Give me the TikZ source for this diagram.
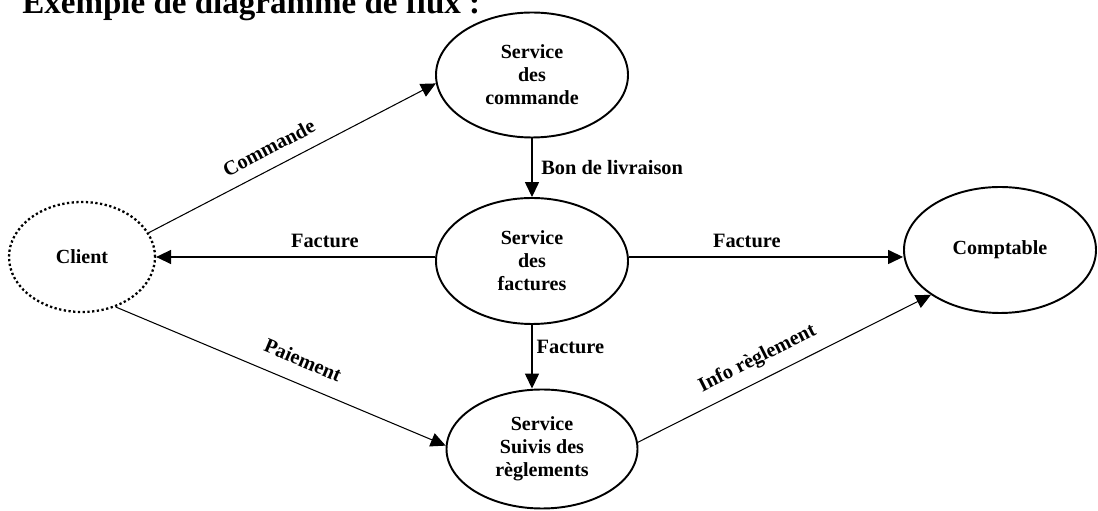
\documentclass[tikz,border=0pt]{standalone}
\usepackage{fontspec}
\setmainfont{Liberation Serif}
\usepackage{tikz}
\usetikzlibrary{shapes.geometric, arrows.meta, positioning}
\tikzset{proc/.style={ellipse, draw=black, line width=1.1pt, inner sep=0pt, align=center,
                      font=\fontsize{11.4pt}{13.1pt}\selectfont\bfseries},
         ext/.style={proc, line width=1.3pt, dash pattern=on 1.3pt off 1.4pt},
         flow/.style={line width=.6pt, -{Triangle[length=8.5pt, width=8pt]}},
         lbl/.style={font=\fontsize{11.6pt}{13.1pt}\selectfont\bfseries}}

\begin{document}
\begin{tikzpicture}
                 \useasboundingbox(0,0) rectangle (21.96,10.22);

                 \node[anchor=base west, inner sep=0pt, font=\fontsize{18.8pt}{21pt}\selectfont\bfseries](titre) at (.44,9.95){Exemple de diagramme de flux :};

                 \node[ext, minimum width=2.92cm, minimum height=2.2cm](client) at (1.64,5.08){Client};
                 \node[proc, minimum width=3.84cm, minimum height=2.5cm](cmd) at (10.64,8.72){Service\\des\\commande};
                 \node[proc, minimum width=3.84cm, minimum height=2.52cm](fact) at (10.64,5){Service\\des\\factures};
                 \node[proc, minimum width=3.82cm, minimum height=2.38cm](regl) at (10.84,1.24){Service\\Suivis des\\règlements};
                 \node[proc, minimum width=3.84cm, minimum height=2.52cm](compta) at (20,5.22){Comptable};

                 \draw[flow](client.20)--node[lbl, pos=.45, sloped, above=.13cm]{Commande}(cmd.185);
                 \draw[flow](cmd.south)--node[lbl, right=.06cm]{Bon de livraison}(fact.north);

                 \draw[flow](fact.west |- client.east)--node[lbl, pos=.395, above=.06cm]{Facture}(client.east);
                 \draw[flow](fact.east |- client.east)--node[lbl, pos=.43, above=.06cm]{Facture}(compta.west |- client.east);
                 \draw[flow](fact.south)--node[lbl, pos=.35, right=-1pt]{Facture}(fact.south |- regl.north);

                 \draw[flow](client.-56)--node[lbl, pos=.54, sloped, above=.2cm]{Paiement}(regl.178);
                 \draw[flow](regl.4)--node[lbl, pos=.44, sloped, above=.1cm]{Info règlement}(compta.213);
             \end{tikzpicture}
\end{document}
